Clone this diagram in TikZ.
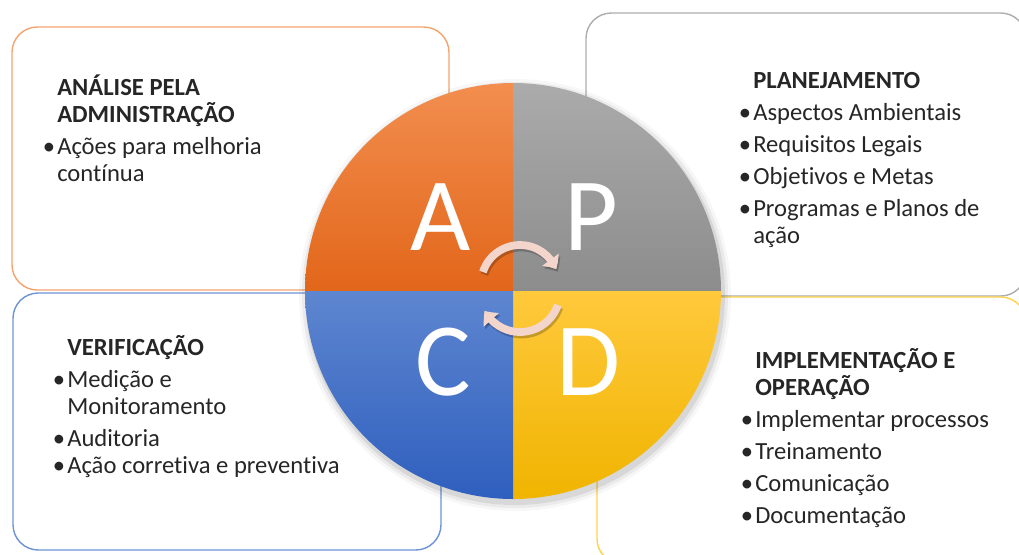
\documentclass[tikz,border=0pt]{standalone}
\usepackage{fontspec}
\setmainfont{Carlito}[Ligatures=NoCommon]
\usetikzlibrary{arrows.meta,bending}

\definecolor{aTop}{HTML}{F28E4F}
\definecolor{aBot}{HTML}{E2661A}
\definecolor{pTop}{HTML}{ABABAB}
\definecolor{pBot}{HTML}{8C8C8C}
\definecolor{cTop}{HTML}{5E86D0}
\definecolor{cBot}{HTML}{2F5FBE}
\definecolor{dTop}{HTML}{FFC93C}
\definecolor{dBot}{HTML}{F0B400}
\definecolor{lineA}{HTML}{F4A470}
\definecolor{lineP}{HTML}{ADADAD}
\definecolor{lineC}{HTML}{6E93D6}
\definecolor{lineD}{HTML}{FFD34D}
\definecolor{cycPink}{HTML}{F4D5CB}

\tikzset{
  box/.style={draw, rounded corners=18pt, line width=1pt, fill=white},
  txt/.style={inner sep=0pt, anchor=base west, text=black!85,
    font=\fontsize{17.5}{19.2}\selectfont},
  letter/.style={inner sep=0pt, anchor=base, text=white,
    font=\fontsize{74}{74}\selectfont},
  cyc/.style={line width=5.5pt, draw=cycPink,
    -{Triangle[width=14pt,length=8pt,bend]}},
  cycshadow/.style={cyc, draw=black, opacity=.22},
}
\newcommand{\itm}{\llap{\textbullet\kern1.5pt}}
\newcommand{\linha}[1]{\hbox{#1}}
\newcommand{\gap}{\vskip3.6pt}

\begin{document}
\begin{tikzpicture}[x=0.025cm, y=-0.025cm]
  \clip (0,0) rectangle (1019,554);
  % boxes
  \draw[box, draw=lineA] (12,27) rectangle (449,290);
  \draw[box, draw=lineP] (586,13) rectangle (1026,296);
  \draw[box, draw=lineC] (13,293) rectangle (441,550);
  \draw[box, draw=lineD] (597,297) rectangle (1026,564);

  % box texts
  \node[txt] (atxt) at (57,95) {\vtop{\baselineskip=19.2pt
      \linha{\bfseries ANÁLISE PELA}
      \linha{\bfseries ADMINISTRAÇÃO}\gap
      \linha{\itm Ações para melhoria}
      \linha{contínua}}};
  \node[txt] (ptxt) at (753,88) {\vtop{\baselineskip=19.2pt
      \linha{\bfseries PLANEJAMENTO}\gap
      \linha{\itm Aspectos Ambientais}\gap
      \linha{\itm Requisitos Legais}\gap
      \linha{\itm Objetivos e Metas}\gap
      \linha{\itm Programas e Planos de}
      \linha{ação}}};
  \node[txt] (ctxt) at (67,355) {\vtop{\baselineskip=19.2pt
      \linha{\bfseries VERIFICAÇÃO}\gap
      \linha{\itm Medição e}
      \linha{Monitoramento}\gap
      \linha{\itm Auditoria}
      \linha{\itm Ação corretiva e preventiva}}};
  \node[txt] (dtxt) at (755,368) {\vtop{\baselineskip=19.2pt
      \linha{\bfseries IMPLEMENTAÇÃO E}
      \linha{\bfseries OPERAÇÃO}\gap
      \linha{\itm Implementar processos}\gap
      \linha{\itm Treinamento}\gap
      \linha{\itm Comunicação}\gap
      \linha{\itm Documentação}}};

  % circle
  \coordinate (c) at (513,291);
  \foreach \r/\o in {216/0.03, 213/0.05, 210/0.08}
    \fill[black, opacity=\o] ([shift={(2,4)}]c) circle (\r);
  \shade[top color=aTop, bottom color=aBot] (c) -- ++(-208,0)
    arc[start angle=180, end angle=270, radius=208] -- cycle;
  \shade[top color=pTop, bottom color=pBot] (c) -- ++(0,-208)
    arc[start angle=270, end angle=360, radius=208] -- cycle;
  \shade[top color=dTop, bottom color=dBot] (c) -- ++(208,0)
    arc[start angle=0, end angle=90, radius=208] -- cycle;
  \shade[top color=cTop, bottom color=cBot] (c) -- ++(0,208)
    arc[start angle=90, end angle=180, radius=208] -- cycle;

  % letters
  \node[letter] (la) at (441,250) {A};
  \node[letter] (lp) at (591,250) {P};
  \node[letter] (lc) at (443,395) {C};
  \node[letter] (ld) at (589,395) {D};

  % cycle arrows
  \coordinate (up) at (520,284);
  \coordinate (dn) at (520,292);
  \draw[cycshadow] ([shift={(-162:39)}]up) ++(1.5,2.5)
    arc[start angle=-162, end angle=-22, radius=39];
  \draw[cyc] ([shift={(-162:39)}]up)
    arc[start angle=-162, end angle=-22, radius=39];
  \draw[cycshadow] ([shift={(19:40)}]dn) ++(1.5,2.5)
    arc[start angle=19, end angle=152, radius=40];
  \draw[cyc] ([shift={(19:40)}]dn)
    arc[start angle=19, end angle=152, radius=40];
\end{tikzpicture}
\end{document}
